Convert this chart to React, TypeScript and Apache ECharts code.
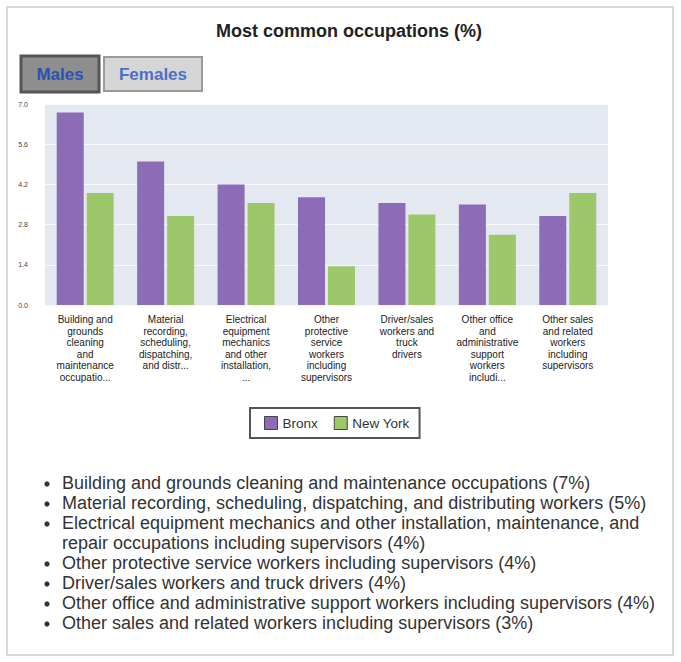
import React, { useEffect, useRef } from "react";
import * as echarts from "echarts";

const chartTitle = "Most common occupations (%)";
const seriesNames = ["Bronx", "New York"];
const occupations = [
  "Building and grounds cleaning and maintenance occupations",
  "Material recording, scheduling, dispatching, and distributing workers",
  "Electrical equipment mechanics and other installation, maintenance, and repair occupations including supervisors",
  "Other protective service workers including supervisors",
  "Driver/sales workers and truck drivers",
  "Other office and administrative support workers including supervisors",
  "Other sales and related workers including supervisors",
];
const axisLabels = [
  "Building and\ngrounds\ncleaning\nand\nmaintenance\noccupatio...",
  "Material\nrecording,\nscheduling,\ndispatching,\nand distr...",
  "Electrical\nequipment\nmechanics\nand other\ninstallation,\n...",
  "Other\nprotective\nservice\nworkers\nincluding\nsupervisors",
  "Driver/sales\nworkers and\ntruck\ndrivers",
  "Other office\nand\nadministrative\nsupport\nworkers\nincludi...",
  "Other sales\nand related\nworkers\nincluding\nsupervisors",
];
const listPercents = ["7%", "5%", "4%", "4%", "4%", "4%", "3%"];
const bronx = [6.7, 5.0, 4.2, 3.75, 3.55, 3.5, 3.1];
const newYork = [3.9, 3.1, 3.55, 1.35, 3.15, 2.45, 3.9];
const yTicks = { min: 0, max: 7, interval: 1.4 };
const tabs = ["Males", "Females"];

const FONT = "'Liberation Sans', Arial, Helvetica, sans-serif";

function wrapText(text: string, maxWidth: number, font: string): string[] {
  const canvas = document.createElement("canvas");
  const ctx = canvas.getContext("2d");
  if (!ctx) return [text];
  ctx.font = font;
  const words = text.split(" ");
  const lines: string[] = [];
  let cur = "";
  for (const w of words) {
    const test = cur ? cur + " " + w : w;
    if (ctx.measureText(test).width > maxWidth && cur) {
      lines.push(cur);
      cur = w;
    } else {
      cur = test;
    }
  }
  if (cur) lines.push(cur);
  return lines;
}

export default function App() {
  const ref = useRef<HTMLDivElement>(null);
  useEffect(() => {
    if (!ref.current) return;
    const chart = echarts.init(ref.current, undefined, { renderer: "svg" });

    const listFont = `18px ${FONT}`;
    const graphics: any[] = [
      {
        type: "rect",
        shape: { x: 7, y: 7, width: 666, height: 648 },
        style: { fill: "none", stroke: "#d9d9d9", lineWidth: 2 },
        silent: true,
      },
      {
        type: "text",
        x: 349,
        y: 31,
        style: {
          text: chartTitle,
          font: `bold 18px ${FONT}`,
          fill: "#222",
          textAlign: "center",
          textVerticalAlign: "middle",
        },
      },
      {
        type: "rect",
        shape: { x: 21, y: 56, width: 78, height: 36 },
        style: { fill: "#8e8e8e", stroke: "#555", lineWidth: 3 },
      },
      {
        type: "text",
        x: 60,
        y: 74,
        style: {
          text: tabs[0],
          font: `bold 17px ${FONT}`,
          fill: "#2a52b5",
          textAlign: "center",
          textVerticalAlign: "middle",
        },
      },
      {
        type: "rect",
        shape: { x: 104, y: 57, width: 98, height: 34 },
        style: { fill: "#d6d6d6", stroke: "#9a9a9a", lineWidth: 2 },
      },
      {
        type: "text",
        x: 153,
        y: 74,
        style: {
          text: tabs[1],
          font: `bold 17px ${FONT}`,
          fill: "#4a70c8",
          textAlign: "center",
          textVerticalAlign: "middle",
        },
      },
    ];

    let y = 483;
    occupations.forEach((occ, i) => {
      const lines = wrapText(`${occ} (${listPercents[i]})`, 610, listFont);
      graphics.push({
        type: "circle",
        shape: { cx: 47, cy: y + 1, r: 2.6 },
        style: { fill: "#333" },
      });
      lines.forEach((ln) => {
        graphics.push({
          type: "text",
          x: 62,
          y,
          style: {
            text: ln,
            font: listFont,
            fill: "#333",
            textAlign: "left",
            textVerticalAlign: "middle",
          },
        });
        y += 20;
      });
    });

    chart.setOption({
      animation: false,
      backgroundColor: "#ffffff",
      color: ["#8d6bb7", "#9dc86a"],
      graphic: graphics,
      legend: {
        data: seriesNames,
        left: 250,
        top: 408,
        orient: "horizontal",
        borderColor: "#555",
        borderWidth: 2,
        padding: [8, 10, 8, 14],
        itemWidth: 13,
        itemHeight: 13,
        itemGap: 16,
        icon: "rect",
        itemStyle: { borderColor: "#444", borderWidth: 1 },
        textStyle: { fontSize: 13.5, color: "#333", fontFamily: FONT },
      },
      grid: {
        left: 45,
        right: 73,
        top: 104,
        bottom: 357,
        show: true,
        backgroundColor: "#e4e8f1",
        borderWidth: 0,
      },
      xAxis: {
        type: "category",
        data: axisLabels,
        axisLine: { show: false },
        axisTick: { show: false },
        axisLabel: {
          interval: 0,
          hideOverlap: false,
          fontSize: 10,
          lineHeight: 11.5,
          color: "#222",
          fontFamily: FONT,
          margin: 9,
          align: "center",
          verticalAlign: "top",
        },
      },
      yAxis: {
        type: "value",
        min: yTicks.min,
        max: yTicks.max,
        interval: yTicks.interval,
        axisLine: { show: false },
        axisTick: { show: false },
        splitLine: { show: true, lineStyle: { color: "#f7f8fc", width: 1 } },
        axisLabel: {
          fontSize: 7,
          color: "#444",
          fontFamily: FONT,
          margin: 17,
          formatter: (v: number) => v.toFixed(1),
        },
      },
      series: [
        {
          name: seriesNames[0],
          type: "bar",
          data: bronx,
          barWidth: 27,
          barGap: "11%",
        },
        {
          name: seriesNames[1],
          type: "bar",
          data: newYork,
          barWidth: 27,
          barGap: "11%",
        },
      ],
    });
    return () => chart.dispose();
  }, []);
  return (
    <div
      ref={ref}
      style={{ position: "absolute", left: 0, top: 0, width: 681, height: 662, background: "#fff" }}
    />
  );
}
